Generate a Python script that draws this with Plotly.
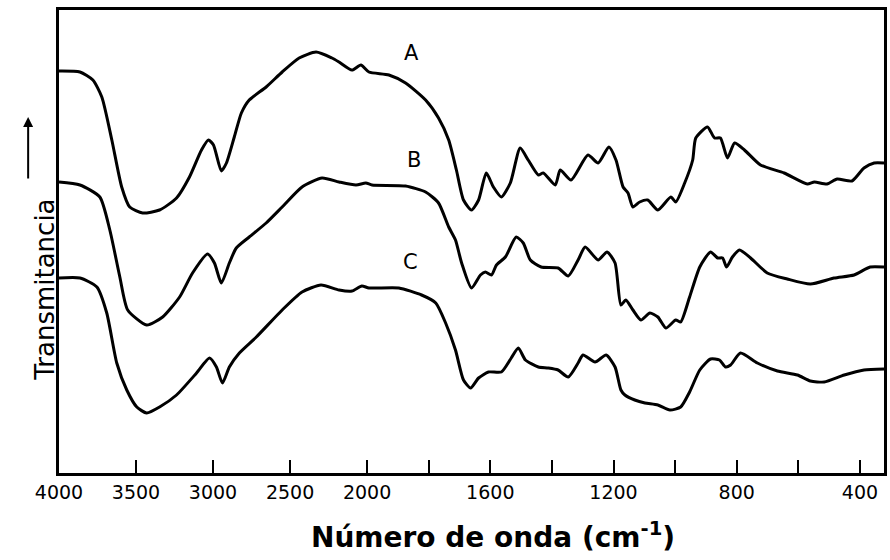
import numpy as np
import plotly.graph_objects as go

# Wavenumbers (cm-1) and relative transmittance (arbitrary units, 0 = bottom of frame)
wn_A = [4000, 3864, 3780, 3722, 3657, 3593, 3541, 3457, 3347, 3237, 3153, 3075, 3030, 2997,
        2946, 2913, 2862, 2816, 2765, 2655, 2551, 2441, 2331, 2228, 2182, 2098, 2040, 1994,
        1929, 1875, 1810, 1768, 1735, 1710, 1687, 1661, 1638, 1613, 1590, 1564, 1535, 1503,
        1477, 1444, 1428, 1389, 1373, 1338, 1283, 1250, 1215, 1192, 1169, 1153, 1137, 1115,
        1089, 1056, 1014, 998, 969, 943, 933, 895, 872, 853, 830, 807, 775, 723, 646, 571,
        548, 507, 474, 426, 387, 354, 322]
T_A = [402, 401, 393, 376, 333, 286, 266, 260, 263, 275, 296, 323, 333, 328,
       302, 310, 336, 360, 373, 386, 401, 415, 421, 415, 411, 403, 408, 401,
       398, 390, 373, 355, 333, 303, 273, 263, 273, 300, 286, 276, 290, 325,
       313, 298, 300, 288, 303, 293, 318, 310, 326, 313, 286, 280, 266, 271,
       273, 263, 276, 271, 290, 313, 335, 346, 335, 335, 315, 330, 323, 308, 300, 289,
       291, 289, 294, 292, 305, 310, 310]

wn_B = [4000, 3864, 3735, 3670, 3605, 3554, 3431, 3327, 3217, 3133, 3036, 2991, 2946, 2894,
        2849, 2765, 2655, 2551, 2422, 2292, 2182, 2072, 2008, 1984, 1875, 1810, 1768, 1735,
        1713, 1693, 1661, 1632, 1616, 1596, 1580, 1551, 1516, 1493, 1470, 1435, 1380, 1347,
        1315, 1292, 1250, 1221, 1195, 1176, 1160, 1137, 1111, 1082, 1056, 1030, 998, 982,
        953, 920, 885, 862, 846, 833, 814, 791, 755, 701, 636, 561, 484, 419, 367, 322]
T_B = [291, 288, 276, 243, 196, 163, 148, 156, 176, 200, 219, 210, 190, 210,
       225, 236, 250, 266, 286, 295, 291, 288, 290, 288, 287, 281, 270, 246,
       233, 210, 185, 198, 201, 198, 208, 216, 236, 230, 213, 206, 205, 197,
       213, 226, 213, 221, 210, 168, 173, 163, 153, 160, 156, 145, 153, 151,
       176, 206, 221, 215, 215, 206, 216, 223, 215, 200, 194, 189, 195, 198, 206, 206]

wn_C = [4000, 3864, 3754, 3690, 3625, 3560, 3495, 3431, 3347, 3237, 3107, 3023, 2978, 2939,
        2894, 2829, 2719, 2551, 2422, 2299, 2182, 2098, 2034, 1994, 1897, 1823, 1777, 1745,
        1713, 1687, 1664, 1638, 1606, 1564, 1532, 1509, 1486, 1444, 1412, 1380, 1347, 1315,
        1299, 1260, 1224, 1195, 1176, 1163, 1131, 1098, 1056, 1017, 982, 953, 920, 885, 856,
        836, 820, 788, 733, 668, 603, 561, 516, 451, 387, 322]
T_C = [195, 195, 186, 160, 110, 83, 66, 60, 66, 78, 100, 115, 106, 90,
       106, 120, 136, 163, 181, 188, 183, 182, 187, 185, 185, 178, 170, 150,
       123, 93, 85, 95, 101, 101, 115, 125, 113, 106, 105, 103, 96, 110,
       118, 111, 118, 106, 83, 78, 73, 70, 68, 63, 66, 81, 103, 114, 113,
       106, 108, 120, 110, 102, 98, 92, 91, 98, 103, 104]

tick_wn = [4000, 3500, 3000, 2500, 2000, 1800, 1600, 1400, 1200, 1000, 800, 600, 400]
tick_txt = ["4000", "3500", "3000", "2500", "2000", "", "1600", "", "1200", "", "800", "", "400"]

series_labels = ["A", "B", "C"]
label_wn = [1855, 1849, 1858]
label_T = [420, 313, 211]


def to_u(w):
    """Spectrometer abscissa: 4000-2000 cm-1 at half the scale of 2000-400 cm-1."""
    w = np.asarray(w, dtype=float)
    return np.where(w >= 2000, (4000 - w) / 2.0, 1000 + (2000 - w))


fig = go.Figure()
for wn, T in [(wn_A, T_A), (wn_B, T_B), (wn_C, T_C)]:
    fig.add_trace(go.Scatter(x=to_u(wn), y=T, mode="lines",
                             line=dict(color="black", width=3, shape="spline", smoothing=0.6),
                             showlegend=False, hoverinfo="skip"))

for lab, w, t in zip(series_labels, label_wn, label_T):
    fig.add_annotation(x=float(to_u(w)), y=t, xref="x", yref="y", text=lab, showarrow=False,
                       font=dict(family="DejaVu Sans", size=21, color="black"))

# y-axis title with upward arrow
fig.add_annotation(xref="paper", yref="paper", x=-0.038, y=0.395, text="Transmitancia",
                   textangle=-90, showarrow=False,
                   font=dict(family="DejaVu Sans", size=26, color="black"))
fig.add_annotation(xref="paper", yref="paper", x=-0.0374, y=0.769, ax=0, ay=63, text="",
                   showarrow=True, arrowhead=2, arrowsize=1, arrowwidth=2, arrowcolor="black")

# x-axis title
fig.add_annotation(xref="paper", yref="paper", x=0.5266, y=-0.134, yanchor="middle",
                   text="<b>Número de onda (cm<sup>-1</sup>)</b>", showarrow=False,
                   font=dict(family="DejaVu Sans", size=28, color="black"))

fig.update_xaxes(range=[0, 2678], tickvals=to_u(tick_wn), ticktext=tick_txt,
                 ticks="inside", ticklen=13, tickwidth=2, tickcolor="black",
                 showline=True, linecolor="black", linewidth=2.5, mirror=True,
                 showgrid=False, zeroline=False,
                 tickfont=dict(family="DejaVu Sans", size=19, color="black"))
fig.update_yaxes(range=[0, 463], showticklabels=False, ticks="",
                 showline=True, linecolor="black", linewidth=2.5, mirror=True,
                 showgrid=False, zeroline=False)

fig.update_layout(width=890, height=560, margin=dict(l=59, r=3, t=10, b=87),
                  paper_bgcolor="white", plot_bgcolor="white")

fig.write_html("out.html")
